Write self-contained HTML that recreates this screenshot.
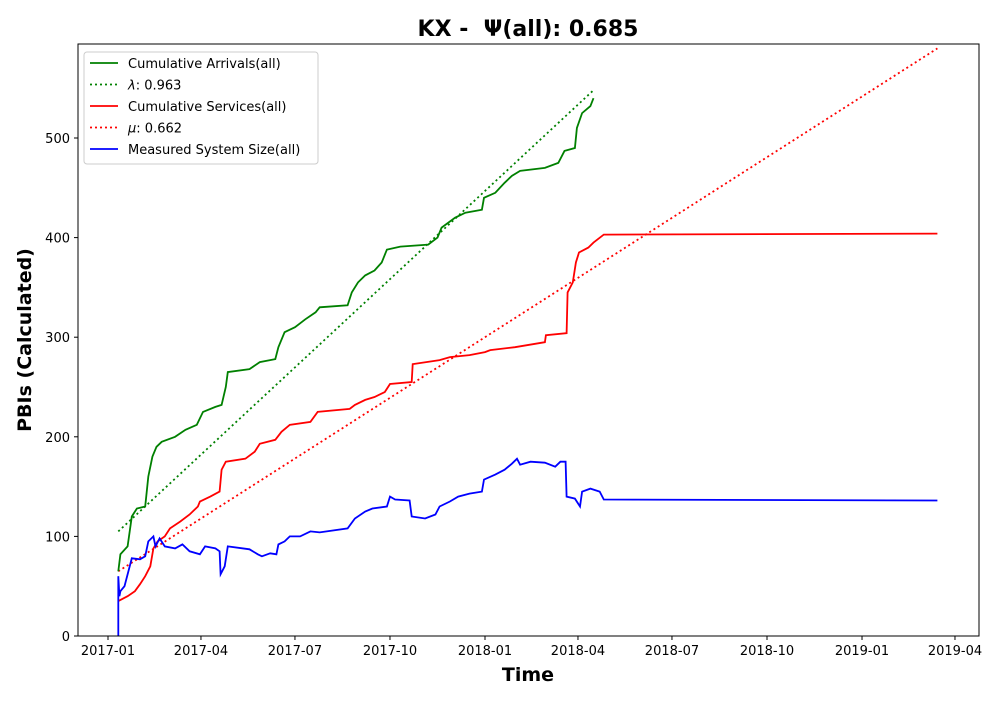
<!DOCTYPE html>
<html><head><meta charset="utf-8"><style>
body{margin:0;background:#fff;font-family:"Liberation Sans","DejaVu Sans",sans-serif}
svg text{font-family:"DejaVu Sans","Liberation Sans",sans-serif}
</style></head><body>
<svg id="chart" width="1000" height="700" xmlns="http://www.w3.org/2000/svg">
<rect width="1000" height="700" fill="#fff"/>
<text x="528" y="36" text-anchor="middle" font-size="22" font-weight="bold" style="white-space:pre">KX -  Ψ(all): 0.685</text>
<text transform="translate(31,340) rotate(-90)" text-anchor="middle" font-size="19" font-weight="bold">PBIs (Calculated)</text>
<text x="528" y="681" text-anchor="middle" font-size="19" font-weight="bold">Time</text>
<g id="plot"></g>
<rect x="78" y="44" width="901" height="592" fill="none" stroke="#000" stroke-width="1"/>
<g id="legend"></g>
</svg>
<script>
const arrDays=[10,12,19,23,28,36,39,43,47,52,65,75,86,92,104,110,114,116,137,147,162,165,171,181,191,201,205,232,236,242,249,258,265,270,283,310,319,323,336,346,362,364,375,384,391,399,423,436,442,452,454,459,467,470];
const arrVals=[65,82,90,120,128,130,160,180,190,195,200,207,212,225,230,232,250,265,268,275,278,290,305,310,318,325,330,332,345,355,362,367,375,388,391,393,400,410,420,425,428,440,445,455,462,467,470,475,487,490,510,525,532,540];
const srvDays=[10,19,26,31,36,41,44,48,55,60,70,79,87,89,99,108,110,114,133,142,147,162,168,176,196,203,234,239,249,258,268,273,294,295,321,331,350,365,370,394,423,424,444,445,450,453,456,465,470,480,803];
const srvVals=[35,40,45,52,60,70,88,95,100,108,115,122,130,135,140,145,167,175,178,185,193,197,205,212,215,225,228,232,237,240,245,253,255,273,277,280,282,285,287,290,295,302,304,345,355,375,385,390,395,403,404];
const sysDays=[10,10,11,12,16,23,31,36,39,44,46,50,55,65,72,79,89,94,104,108,109,113,116,137,145,149,157,163,165,171,176,186,196,205,232,239,249,256,270,273,278,292,294,307,317,321,331,339,350,362,364,375,384,391,396,399,409,423,433,438,443,444,452,457,459,467,476,480,803];
const sysVals=[0,60,40,45,50,78,77,80,95,100,90,98,90,88,92,85,82,90,88,85,62,70,90,87,82,80,83,82,92,95,100,100,105,104,108,118,125,128,130,140,137,136,120,118,122,130,135,140,143,145,157,162,167,173,178,172,175,174,170,175,175,140,138,130,145,148,145,137,136];
const lambdaRate=0.963, lambdaStart=[10,105], lambdaEnd=470;
const muRate=0.662, muStart=[10,65], muEnd=803;
const yTicks=[0,100,200,300,400,500];
const xTickDays=[0,90,181,273,365,455,546,638,730,820];
const xTickLabels=["2017-01","2017-04","2017-07","2017-10","2018-01","2018-04","2018-07","2018-10","2019-01","2019-04"];
const NS="http://www.w3.org/2000/svg";
const X=d=>108+d*1.0329, Y=v=>636-v*0.996;
const plot=document.getElementById('plot');
function mk(t,a,p){const e=document.createElementNS(NS,t);for(const k in a)e.setAttribute(k,a[k]);(p||plot).appendChild(e);return e;}
yTicks.forEach(v=>{
 const l=mk('line',{x1:74,x2:78,y1:Y(v),y2:Y(v),stroke:'#000'});
 
 
 const t=mk('text',{x:70,y:Y(v)+5,'text-anchor':'end','font-size':13});t.textContent=v;
 
 
});
xTickDays.forEach((d,i)=>{
 const l=mk('line',{x1:X(d),x2:X(d),y1:636,y2:640,stroke:'#000'});
 
 
 const t=mk('text',{x:X(d),y:655,'text-anchor':'middle','font-size':13});t.textContent=xTickLabels[i];
 
 
});
function poly(ds,vs,color,dash,name){
 const pts=ds.map((d,i)=>X(d).toFixed(1)+','+Y(vs[i]).toFixed(1)).join(' ');
 const p=mk('polyline',{points:pts,fill:'none',stroke:color,'stroke-width':1.8});
 if(dash)p.setAttribute('stroke-dasharray',dash);
 
 
}
poly([lambdaStart[0],lambdaEnd],[lambdaStart[1],lambdaStart[1]+lambdaRate*(lambdaEnd-lambdaStart[0])],'green','2,3','lambda-line');
poly([muStart[0],muEnd],[muStart[1],muStart[1]+muRate*(muEnd-muStart[0])],'red','2,3','mu-line');
poly(arrDays,arrVals,'green',null,'cumulative-arrivals-line');
poly(srvDays,srvVals,'red',null,'cumulative-services-line');
poly(sysDays,sysVals,'blue',null,'system-size-line');
const lg=document.getElementById('legend');
mk('rect',{x:84,y:52,width:234,height:112,fill:'#fff',stroke:'#ccc',rx:3},lg);
const items=[["green",null,"","Cumulative Arrivals(all)"],["green","2,3","λ",": 0.963"],["red",null,"","Cumulative Services(all)"],["red","2,3","μ",": 0.662"],["blue",null,"","Measured System Size(all)"]];
items.forEach((it,i)=>{
 const y=63+i*21.5;
 const l=mk('line',{x1:90,x2:118,y1:y,y2:y,stroke:it[0],'stroke-width':1.8},lg);
 if(it[1])l.setAttribute('stroke-dasharray',it[1]);
 
 
 const t=mk('text',{x:128,y:y+5,'font-size':13},lg);
 if(it[2]){const s=document.createElementNS(NS,'tspan');s.setAttribute('font-style','italic');s.textContent=it[2];t.appendChild(s);}
 t.appendChild(document.createTextNode(it[3]));
 
 
});
</script>
</body></html>
